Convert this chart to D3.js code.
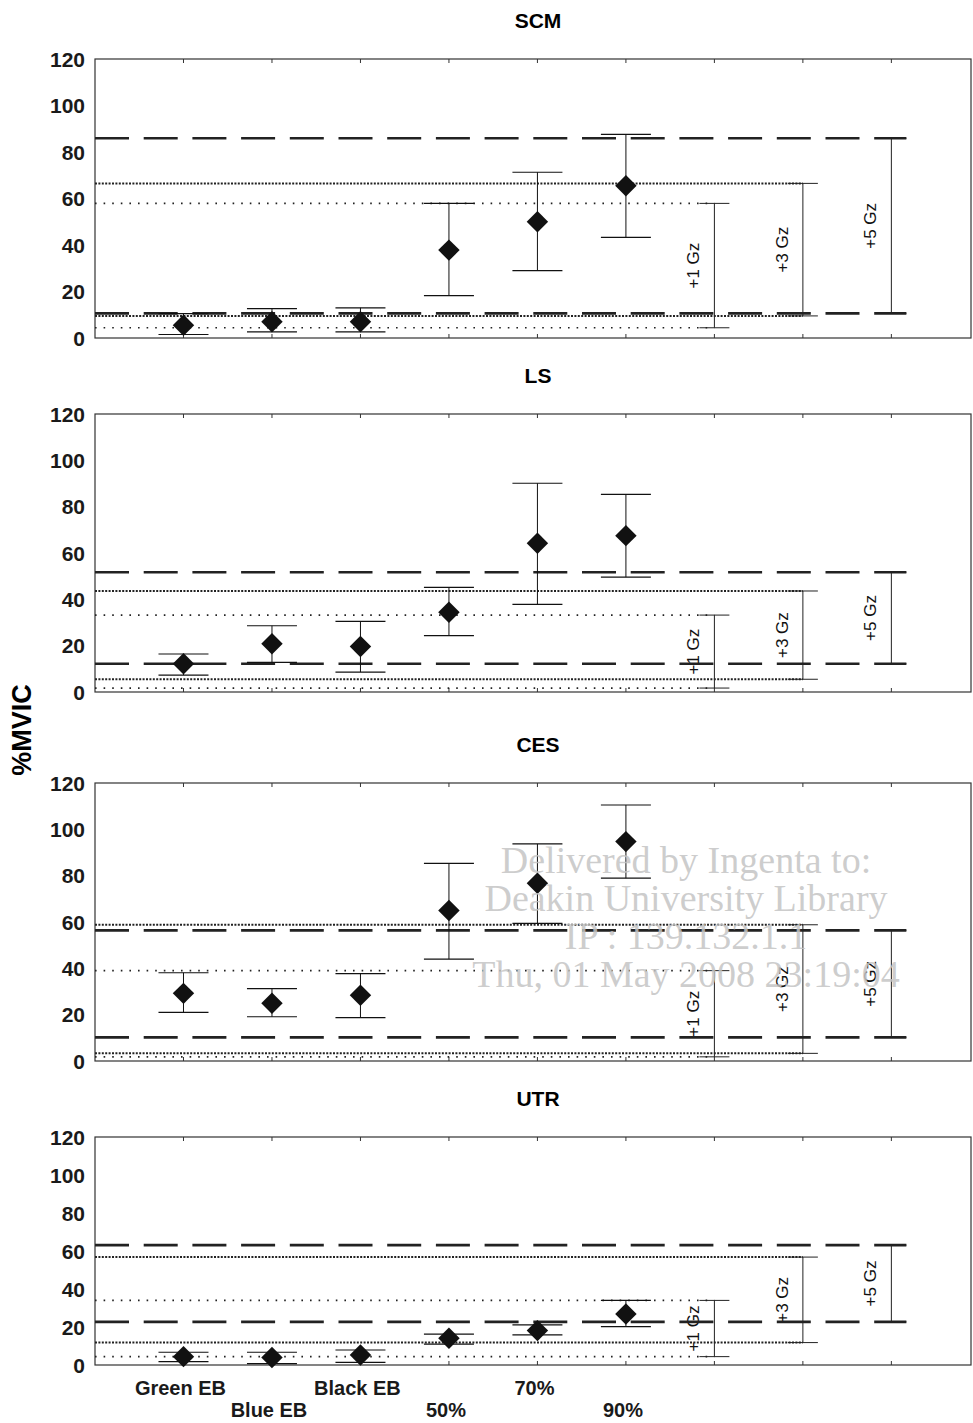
<!DOCTYPE html>
<head>
  <meta charset="UTF-8">
  <style>
    body { margin: 0; background: #fff; }
    text { font-family: "Liberation Sans", Arial, sans-serif; }
    text.wm { font-family: "Liberation Serif", "Times New Roman", serif; }
  </style>
<title>%MVIC by muscle</title>
</head>

<body>

  <script type="text/javascript" src="https://cdn.jsdelivr.net/npm/d3@7"></script>

  <script>
    // data
    var muscles = ["SCM", "LS", "CES", "UTR"];
    var categories = ["Green EB", "Blue EB", "Black EB", "50%", "70%", "90%"];
    var yTicks = [0, 20, 40, 60, 80, 100, 120];
    var gzLabels = ["+1 Gz", "+3 Gz", "+5 Gz"];

    var scmMean = [5.5, 7, 7, 37.8, 50, 65.5];
    var scmLow = [1.5, 2.6, 2.6, 18.2, 29, 43.3];
    var scmHigh = [10.5, 12.6, 13, 57.9, 71.3, 87.6];
    var scmGzLow = [4.4, 9.5, 10.6];
    var scmGzHigh = [57.9, 66.5, 85.9];

    var lsMean = [12.2, 20.8, 19.6, 34.4, 64.2, 67.5];
    var lsLow = [7.3, 12.8, 8.6, 24.3, 37.8, 49.6];
    var lsHigh = [16.4, 28.6, 30.5, 45.2, 90.1, 85.3];
    var lsGzLow = [1.7, 5.5, 12.2];
    var lsGzHigh = [33.2, 43.6, 51.7];

    var cesMean = [29.2, 24.9, 28.4, 65, 76.7, 94.7];
    var cesLow = [21, 19.1, 18.7, 44, 59.4, 78.9];
    var cesHigh = [38.1, 31.2, 37.7, 85.3, 93.7, 110.5];
    var cesGzLow = [1.8, 3.3, 10.2];
    var cesGzHigh = [39, 58.8, 56.4];

    var utrMean = [4.4, 3.9, 5.3, 14.1, 18.1, 26.8];
    var utrLow = [1.8, 0.7, 1.4, 11, 15.9, 20.2];
    var utrHigh = [6.7, 6.7, 7.9, 16.2, 21.1, 34];
    var utrGzLow = [4.4, 11.8, 22.7];
    var utrGzHigh = [34, 56.8, 63.1];

    var panelData = [
      { mean: scmMean, low: scmLow, high: scmHigh, gzLow: scmGzLow, gzHigh: scmGzHigh },
      { mean: lsMean, low: lsLow, high: lsHigh, gzLow: lsGzLow, gzHigh: lsGzHigh },
      { mean: cesMean, low: cesLow, high: cesHigh, gzLow: cesGzLow, gzHigh: cesGzHigh },
      { mean: utrMean, low: utrLow, high: utrHigh, gzLow: utrGzLow, gzHigh: utrGzHigh }
    ];

    // layout
    var width = 973;
    var height = 1423;
    var left = 95;
    var right = 971;
    var panelTop = [59, 414, 783, 1137];
    var panelBottom = [338, 692, 1061, 1365];
    var capHalf = 25;
    var gzCapHalf = 15;
    // line style for each Gz band: sparse dots, dense dots, long dashes
    var gzDash = ["1.6,7", "2,1.4", "34,14.7"];
    var gzStroke = [1.7, 2, 2.6];

    var svg = d3.select("body").append("svg")
      .attr("width", width)
      .attr("height", height);

    // shared x scale: categories at 1..6, Gz brackets at 7..9
    var x = d3.scaleLinear().domain([0, 9.9]).range([left, right]);
    var diamond = d3.symbol().type(d3.symbolSquare).size(230);

    muscles.forEach(function (name, p) {
      var d = panelData[p];
      var y = d3.scaleLinear().domain([0, 120]).range([panelBottom[p], panelTop[p]]);
      var g = svg.append("g").attr("class", "panel");

      // title
      g.append("text")
        .attr("x", 538)
        .attr("y", panelTop[p] - 31)
        .attr("text-anchor", "middle")
        .attr("font-size", "21px")
        .attr("font-weight", "bold")
        .text(name);

      // frame
      g.append("rect")
        .attr("x", left)
        .attr("y", panelTop[p])
        .attr("width", right - left)
        .attr("height", panelBottom[p] - panelTop[p])
        .attr("fill", "none")
        .attr("stroke", "#333")
        .attr("stroke-width", 1.2);

      // y tick labels
      g.selectAll(".ylab")
        .data(yTicks)
        .enter()
        .append("text")
        .attr("x", 85)
        .attr("y", function (v) { return y(v); })
        .attr("dy", "0.36em")
        .attr("text-anchor", "end")
        .attr("font-size", "21px")
        .attr("font-weight", "bold")
        .attr("fill", "#1a1a1a")
        .text(function (v) { return v; });

      // small inward ticks top and bottom
      var tickPos = d3.range(1, 10);
      g.selectAll(".tb")
        .data(tickPos)
        .enter()
        .append("line")
        .attr("x1", function (t) { return x(t); })
        .attr("x2", function (t) { return x(t); })
        .attr("y1", panelBottom[p])
        .attr("y2", panelBottom[p] - 4)
        .attr("stroke", "#333");
      g.selectAll(".tt")
        .data(tickPos)
        .enter()
        .append("line")
        .attr("x1", function (t) { return x(t); })
        .attr("x2", function (t) { return x(t); })
        .attr("y1", panelTop[p])
        .attr("y2", panelTop[p] + 4)
        .attr("stroke", "#333");

      // Gz reference lines and brackets
      gzLabels.forEach(function (lab, k) {
        var bx = x(7 + k);
        [d.gzLow[k], d.gzHigh[k]].forEach(function (v) {
          g.append("line")
            .attr("x1", left)
            .attr("x2", k == 2 ? bx + gzCapHalf : bx)
            .attr("y1", y(v))
            .attr("y2", y(v))
            .attr("stroke", "#222")
            .attr("stroke-width", gzStroke[k])
            .attr("stroke-dasharray", gzDash[k]);
          g.append("line")
            .attr("x1", bx - gzCapHalf)
            .attr("x2", bx + gzCapHalf)
            .attr("y1", y(v))
            .attr("y2", y(v))
            .attr("stroke", "#222")
            .attr("stroke-width", 1);
        });
        g.append("line")
          .attr("x1", bx)
          .attr("x2", bx)
          .attr("y1", y(d.gzLow[k]))
          .attr("y2", y(d.gzHigh[k]))
          .attr("stroke", "#222")
          .attr("stroke-width", 1);
        var my = (y(d.gzLow[k]) + y(d.gzHigh[k])) / 2;
        g.append("text")
          .attr("transform", "translate(" + (bx - 15) + "," + my + ") rotate(-90)")
          .attr("text-anchor", "middle")
          .attr("font-size", "17px")
          .attr("fill", "#111")
          .text(lab);
      });

      // error bars
      var pts = categories.map(function (c, i) {
        return { i: i + 1, mean: d.mean[i], low: d.low[i], high: d.high[i] };
      });
      g.selectAll(".eb")
        .data(pts)
        .enter()
        .append("line")
        .attr("x1", function (e) { return x(e.i); })
        .attr("x2", function (e) { return x(e.i); })
        .attr("y1", function (e) { return y(e.low); })
        .attr("y2", function (e) { return y(e.high); })
        .attr("stroke", "#111")
        .attr("stroke-width", 1);
      ["low", "high"].forEach(function (key) {
        g.selectAll(".cap-" + key)
          .data(pts)
          .enter()
          .append("line")
          .attr("x1", function (e) { return x(e.i) - capHalf; })
          .attr("x2", function (e) { return x(e.i) + capHalf; })
          .attr("y1", function (e) { return y(e[key]); })
          .attr("y2", function (e) { return y(e[key]); })
          .attr("stroke", "#111")
          .attr("stroke-width", 1.2);
      });

      // diamonds
      g.selectAll(".pt")
        .data(pts)
        .enter()
        .append("path")
        .attr("d", diamond)
        .attr("transform", function (e) { return "translate(" + x(e.i) + "," + y(e.mean) + ") rotate(45)"; })
        .attr("fill", "#111");
    });

    // x category labels, staggered on two rows
    svg.selectAll(".xlab")
      .data(categories)
      .enter()
      .append("text")
      .attr("x", function (c, i) { return x(i + 1) - 3; })
      .attr("y", function (c, i) { return i % 2 == 0 ? 1395 : 1417; })
      .attr("text-anchor", "middle")
      .attr("font-size", "20px")
      .attr("font-weight", "bold")
      .attr("fill", "#1a1a1a")
      .text(function (c) { return c; });

    // y axis title
    svg.append("text")
      .attr("transform", "translate(31,730) rotate(-90)")
      .attr("text-anchor", "middle")
      .attr("font-size", "27px")
      .attr("font-weight", "bold")
      .text("%MVIC");

    // watermark from the source scan
    var watermark = ["Delivered by Ingenta to:", "Deakin University Library", "IP : 139.132.1.1", "Thu, 01 May 2008 23:19:04"];
    svg.selectAll(".wm")
      .data(watermark)
      .enter()
      .append("text")
      .attr("class", "wm")
      .attr("x", 686)
      .attr("y", function (t, i) { return 873 + i * 38; })
      .attr("text-anchor", "middle")
      .attr("font-size", "38px")
      .attr("fill", "#c4c4c4")
      .attr("fill-opacity", 0.85)
      .text(function (t) { return t; });
  </script>

</body>
